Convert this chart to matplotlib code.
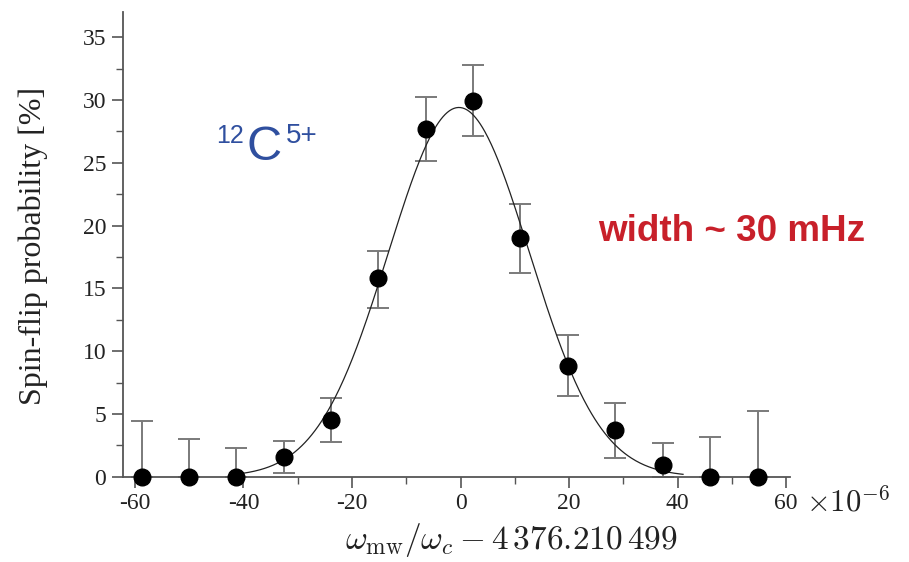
import numpy as np
import matplotlib
matplotlib.use("Agg")
import matplotlib.pyplot as plt
from matplotlib.ticker import MultipleLocator

# Data (x in units of 1e-6, y in %)
x_vals = [-58.7, -50.1, -41.3, -32.6, -23.9, -15.2, -6.4, 2.3, 11.0, 19.8, 28.5, 37.3, 46.0, 54.8]
y_vals = [0.0, 0.0, 0.0, 1.55, 4.5, 15.8, 27.7, 29.9, 19.0, 8.8, 3.7, 0.93, 0.0, 0.0]
err_hi = [4.4, 3.0, 2.3, 2.86, 6.3, 18.0, 30.2, 32.75, 21.75, 11.3, 5.85, 2.7, 3.2, 5.25]
err_lo = [0.0, 0.0, 0.0, 0.27, 2.8, 13.4, 25.1, 27.1, 16.2, 6.4, 1.5, 0.0, 0.0, 0.0]

# Gaussian fit parameters
fit_amp = 29.4
fit_center = -0.3
fit_sigma = 13.0
fit_range = (-40.0, 41.0)

xticks = [-60, -40, -20, 0, 20, 40, 60]
yticks = [0, 5, 10, 15, 20, 25, 30, 35]

plt.rcParams['mathtext.fontset'] = 'cm'
serif = ['Liberation Serif', 'DejaVu Serif']
sans = ['Liberation Sans', 'DejaVu Sans']

fig = plt.figure(figsize=(9.09, 5.62), dpi=100)
ax = fig.add_axes([0.1353, 0.1518, 0.869 - 0.1353, 0.9786 - 0.1518])

axis_col = '#555555'
x = np.array(x_vals)
y = np.array(y_vals)
lo = y - np.array(err_lo)
hi = np.array(err_hi) - y

ax.errorbar(x, y, yerr=[lo, hi], fmt='none', ecolor='#7a7a7a', elinewidth=1.4,
            capsize=8, capthick=1.4, clip_on=False, zorder=2)
ax.plot(x, y, 'o', color='black', markersize=12, clip_on=False, zorder=4)

xf = np.linspace(fit_range[0], fit_range[1], 400)
yf = fit_amp * np.exp(-(xf - fit_center) ** 2 / (2 * fit_sigma ** 2))
ax.plot(xf, yf, color='#222222', lw=0.9, zorder=3, clip_on=False)

ax.set_xlim(-62.2, 60.7)
ax.set_ylim(0, 37)
ax.spines['top'].set_visible(False)
ax.spines['right'].set_visible(False)
for s in ['left', 'bottom']:
    ax.spines[s].set_color(axis_col)
    ax.spines[s].set_linewidth(1.3)

ax.set_xticks(xticks)
ax.set_xticklabels([str(v) for v in xticks])
ax.set_yticks(yticks)
ax.set_yticklabels([str(v) for v in yticks])
ax.xaxis.set_minor_locator(MultipleLocator(10))
ax.yaxis.set_minor_locator(MultipleLocator(2.5))
ax.tick_params(axis='both', which='major', direction='out', length=8, width=1.2,
               color=axis_col, labelsize=17, labelcolor='#222222', pad=4)
ax.tick_params(axis='both', which='minor', direction='out', length=5, width=1.0, color=axis_col)
for lab in ax.get_xticklabels() + ax.get_yticklabels():
    lab.set_family(serif)

fig.text(33 / 909, 1 - 246 / 562, 'Spin-flip probability [%]', family=serif, fontsize=23,
         color='#222222', rotation=90, ha='center', va='center')
fig.text(511 / 909, 1 - 540 / 562, r'$\omega_{\rm mw}/\omega_c - 4\,376.210\,499$',
         fontsize=24, color='#222222', ha='center', va='center')
fig.text(806 / 909, 1 - 511 / 562, r'$\times10^{-6}$', fontsize=22,
         color='#222222', ha='left', va='baseline')

blue = '#2f4f9f'
ax.text(-39.4, 25.2, 'C', family=sans, fontsize=35, color=blue, ha='left', va='baseline')
ax.text(-39.9, 26.6, '12', family=sans, fontsize=18, color=blue, ha='right', va='baseline')
ax.text(-32.2, 26.6, '5+', family=sans, fontsize=20, color=blue, ha='left', va='baseline')
ax.text(25.4, 19.55, 'width ~ 30 mHz', family=sans,
        fontsize=26.5, fontweight='bold', color='#c8202a', ha='left', va='center')

fig.savefig('out.png', dpi=100)
